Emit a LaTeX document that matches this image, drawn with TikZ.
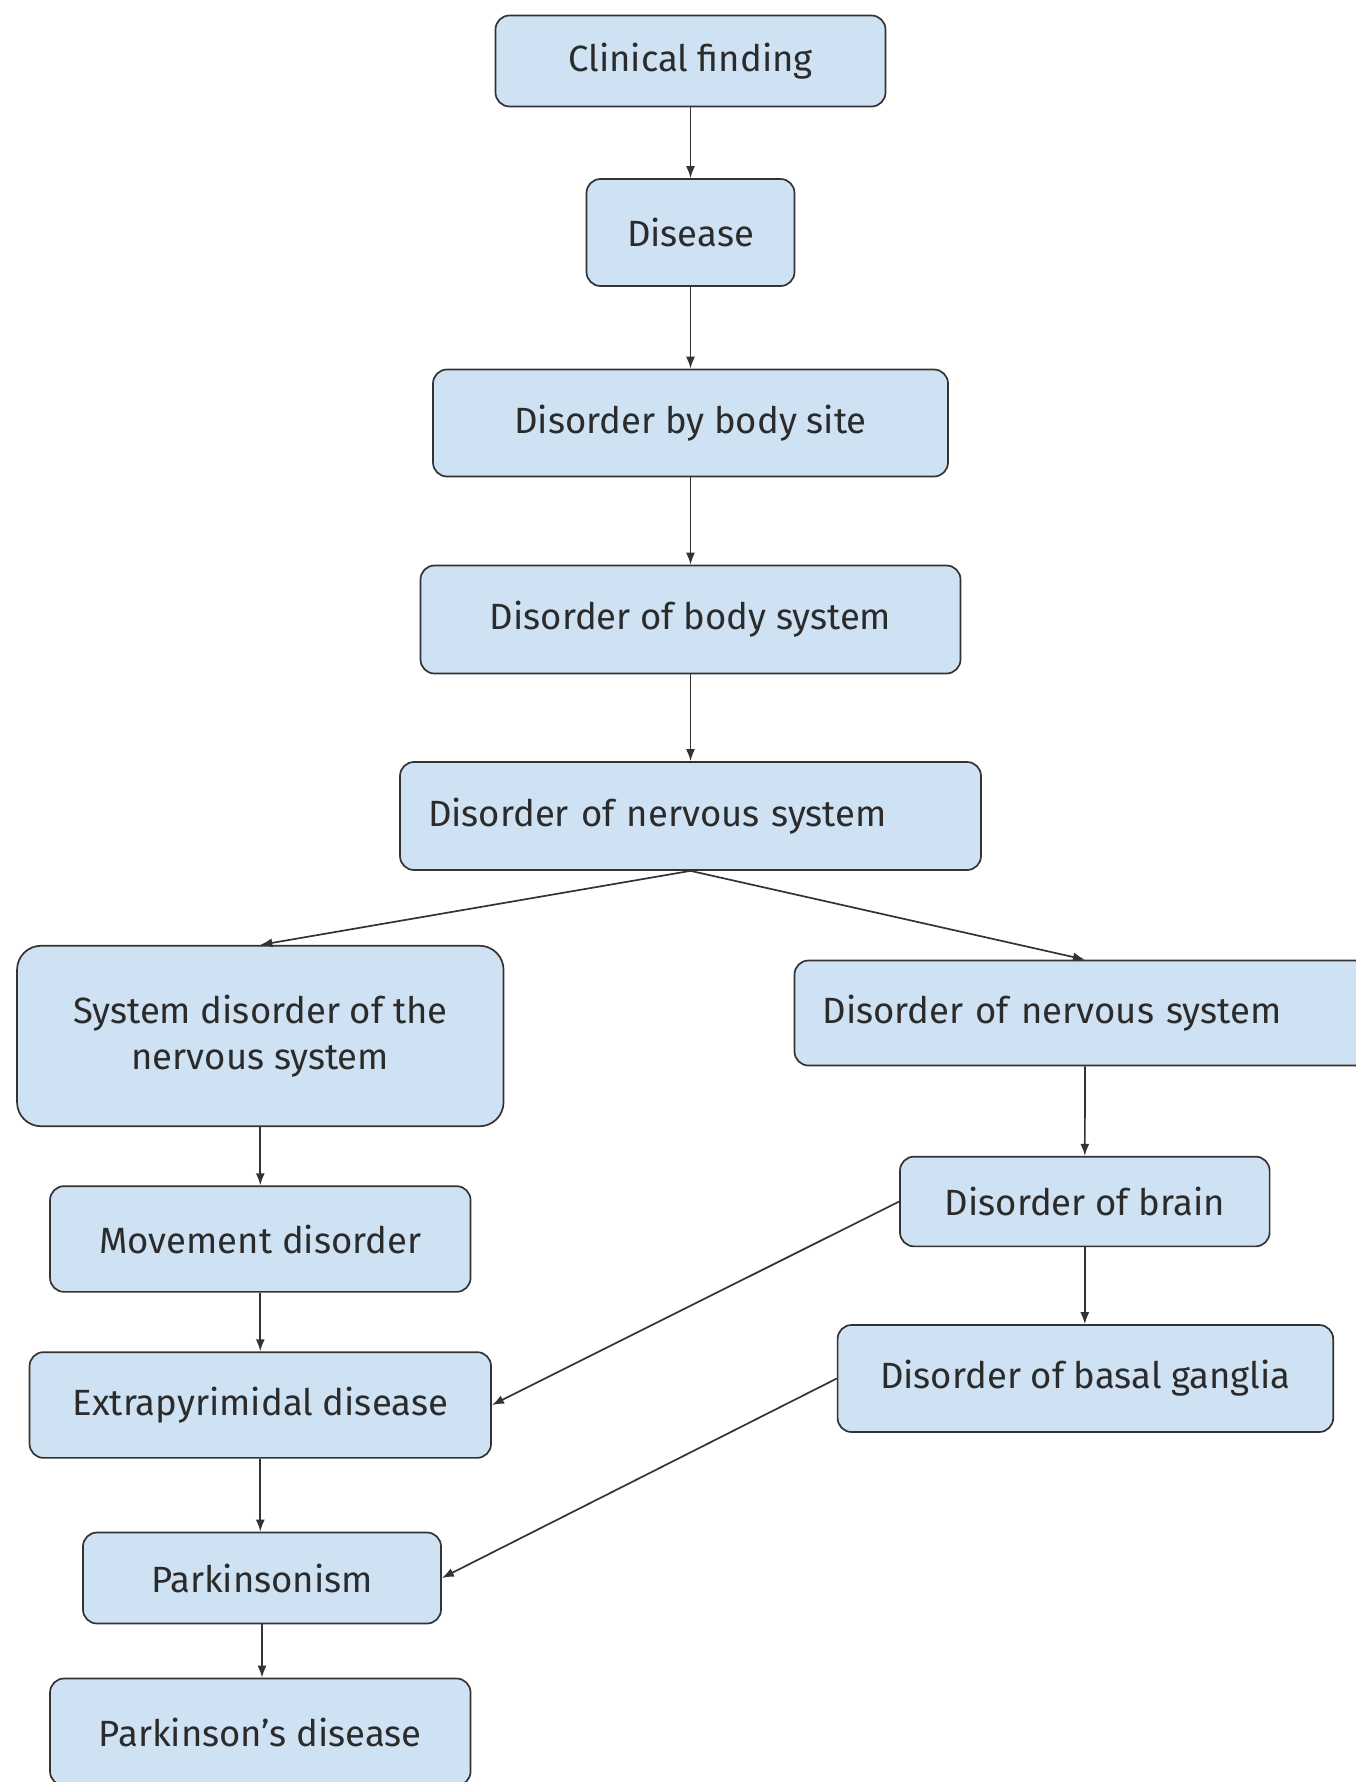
\documentclass[tikz,border=0pt]{standalone}
\usepackage{fontspec}
\setmainfont{Fira Sans}
\usetikzlibrary{arrows.meta}
\definecolor{boxc}{HTML}{CFE2F3}
\definecolor{linec}{HTML}{333333}
\definecolor{textc}{HTML}{2B2B2B}
\begin{document}
\begin{tikzpicture}[x=1pt,y=-1pt,
  box/.style={draw=linec, fill=boxc, line width=1.7pt, rounded corners=14pt,
    text=textc, inner sep=0pt, align=center,
    font=\fontsize{36.5}{46}\selectfont},
  leftbox/.style={box, align=left, inner xsep=28pt, text width=#1},
  conn/.style={draw=linec, line width=1.7pt, -{Latex[length=12pt,width=9pt]}}]
\useasboundingbox (0,0) rectangle (1356,1782);
\clip (0,0) rectangle (1356,1782);
\node[box, minimum width=390pt, minimum height=91pt] (clin) at (690.5,61) {Clinical finding};
\node[box, minimum width=208pt, minimum height=107pt] (dis) at (690.5,232.5) {Disease};
\node[box, minimum width=515pt, minimum height=107pt] (site) at (690.5,423) {Disorder by body site};
\node[box, minimum width=540pt, minimum height=108pt] (bsys) at (690.5,619.5) {Disorder of body system};
\node[leftbox=525pt, minimum height=108pt] (nerv) at (690.5,816) {Disorder of nervous system};
\node[box, rounded corners=24pt, minimum width=486.5pt, minimum height=180.5pt] (sysd) at (260.3,1036) {System disorder of the\\nervous system};
\node[leftbox=525pt, minimum height=105pt] (nerv2) at (1085,1013) {Disorder of nervous system};
\node[box, minimum width=420.5pt, minimum height=105.7pt] (move) at (260.3,1239) {Movement disorder};
\node[box, minimum width=461.5pt, minimum height=105.7pt] (extra) at (260.3,1405) {Extrapyrimidal disease};
\node[box, minimum width=358pt, minimum height=91pt] (park) at (262,1578) {Parkinsonism};
\node[box, minimum width=420.5pt, minimum height=107pt] (pd) at (260.3,1732) {Parkinson's disease};
\node[box, minimum width=369.6pt, minimum height=89.7pt] (brain) at (1084.8,1201.5) {Disorder of brain};
\node[box, minimum width=495.6pt, minimum height=107pt] (basal) at (1085.4,1378.5) {Disorder of basal ganglia};
\draw[conn] (clin.south) -- (dis.north);
\draw[conn] (dis.south) -- (site.north);
\draw[conn] (site.south) -- (bsys.north);
\draw[conn] (bsys.south) -- (nerv.north);
\draw[conn] (nerv.south) -- (sysd.north);
\draw[conn] (nerv.south) -- (nerv2.north);
\draw[conn] (sysd.south) -- (move.north);
\draw[conn] (move.south) -- (extra.north);
\draw[conn] (extra.south) -- (extra.south |- park.north);
\draw[conn] (park.south) -- (park.south |- pd.north);
\draw[conn] (nerv2.south) -- (brain.north);
\draw[conn] (brain.south) -- (brain.south |- basal.north);
\draw[conn] (brain.west) -- (extra.east);
\draw[conn] (basal.west) -- (park.east);
\end{tikzpicture}
\end{document}
